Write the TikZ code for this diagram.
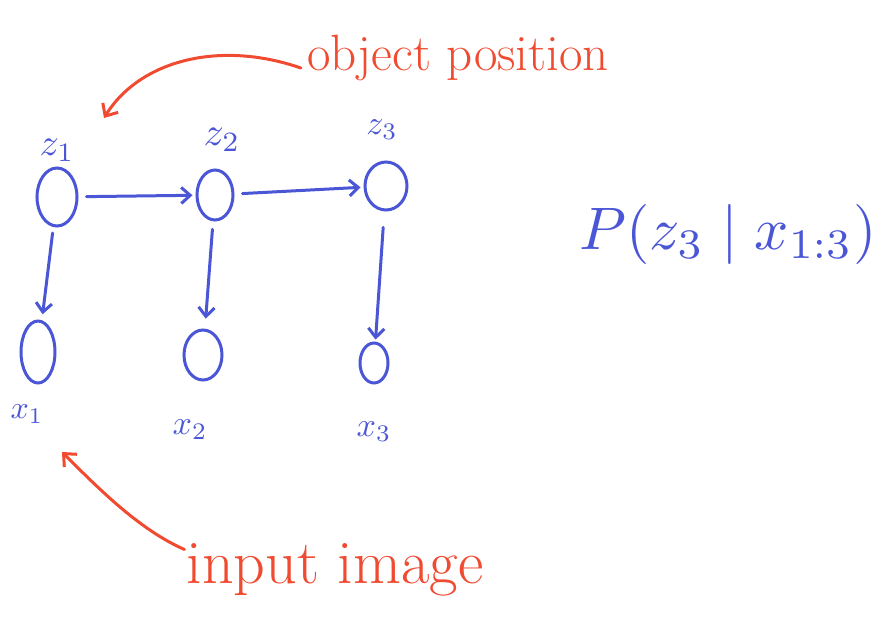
\documentclass[tikz,border=0pt]{standalone}
\usepackage{graphicx}
\usetikzlibrary{shapes.geometric,arrows.meta}
\definecolor{inkblue}{RGB}{74,86,214}
\definecolor{inkred}{RGB}{240,74,48}
\newcommand{\bigmath}[2]{\scalebox{#1}{$#2$}}
\begin{document}
\begin{tikzpicture}[x=1pt,y={(0,-1pt)},
  var/.style={ellipse,draw=inkblue,line width=3pt,inner sep=0pt},
  lbl/.style={text=inkblue,inner sep=0pt},
  edge/.style={draw=inkblue,line width=3pt,line cap=round,
    -{Straight Barb[length=9pt,width=16pt,line width=3pt]}},
  note/.style={text=inkred,inner sep=0pt},
  pointer/.style={draw=inkred,line width=3pt,line cap=round,
    -{Straight Barb[length=10pt,width=18pt,line width=3pt]}}]
\useasboundingbox (0,0) rectangle (886,619);

% latent states
\node[var,minimum width=40pt,minimum height=58pt] (z1) at (57,197) {};
\node[var,minimum width=36pt,minimum height=50pt] (z2) at (215,195) {};
\node[var,minimum width=42pt,minimum height=48pt] (z3) at (386,186) {};
% observations
\node[var,minimum width=34pt,minimum height=62pt] (x1) at (38,352) {};
\node[var,minimum width=38pt,minimum height=50pt] (x2) at (203,355) {};
\node[var,minimum width=28pt,minimum height=40pt] (x3) at (374,363) {};

% variable labels
\node[lbl] (lz1) at (57,150) {\bigmath{3.8}{z_1}};
\node[lbl] (lz2) at (222,140) {\bigmath{4}{z_2}};
\node[lbl] (lz3) at (382,130) {\bigmath{3.4}{z_3}};
\node[lbl] (lx1) at (27,414) {\bigmath{3.2}{x_1}};
\node[lbl] (lx2) at (190,430) {\bigmath{3.4}{x_2}};
\node[lbl] (lx3) at (374,432) {\bigmath{3.4}{x_3}};

% posterior
\node[lbl] (post) at (728,234) {\bigmath{6}{P(z_3\mid x_{1:3})}};

% transitions and emissions
\draw[edge,shorten <=8pt,shorten >=3pt] (z1) -- (z2);
\draw[edge,shorten <=8pt,shorten >=3pt] (z2) -- (z3);
\draw[edge,shorten <=6pt,shorten >=6pt] (z1) -- (x1);
\draw[edge,shorten <=8pt,shorten >=10pt] (z2) -- (x2);
\draw[edge,shorten <=16pt,shorten >=2pt] (z3) -- (x3);

% annotations
\node[note,font=\fontsize{51}{55}\selectfont] (obj) at (458,58) {object position};
\node[note,font=\fontsize{62}{66}\selectfont] (inp) at (335,570) {input image};
\coordinate (objtip) at (104,118);
\coordinate (imgtip) at (62,452);
\draw[pointer] ([xshift=-6pt,yshift=-10pt]obj.west) .. controls (220,40) and (140,60) .. (objtip);
\draw[pointer] ([xshift=-2pt,yshift=-6pt]inp.north west) .. controls (140,530) and (100,490) .. (imgtip);
\end{tikzpicture}
\end{document}
